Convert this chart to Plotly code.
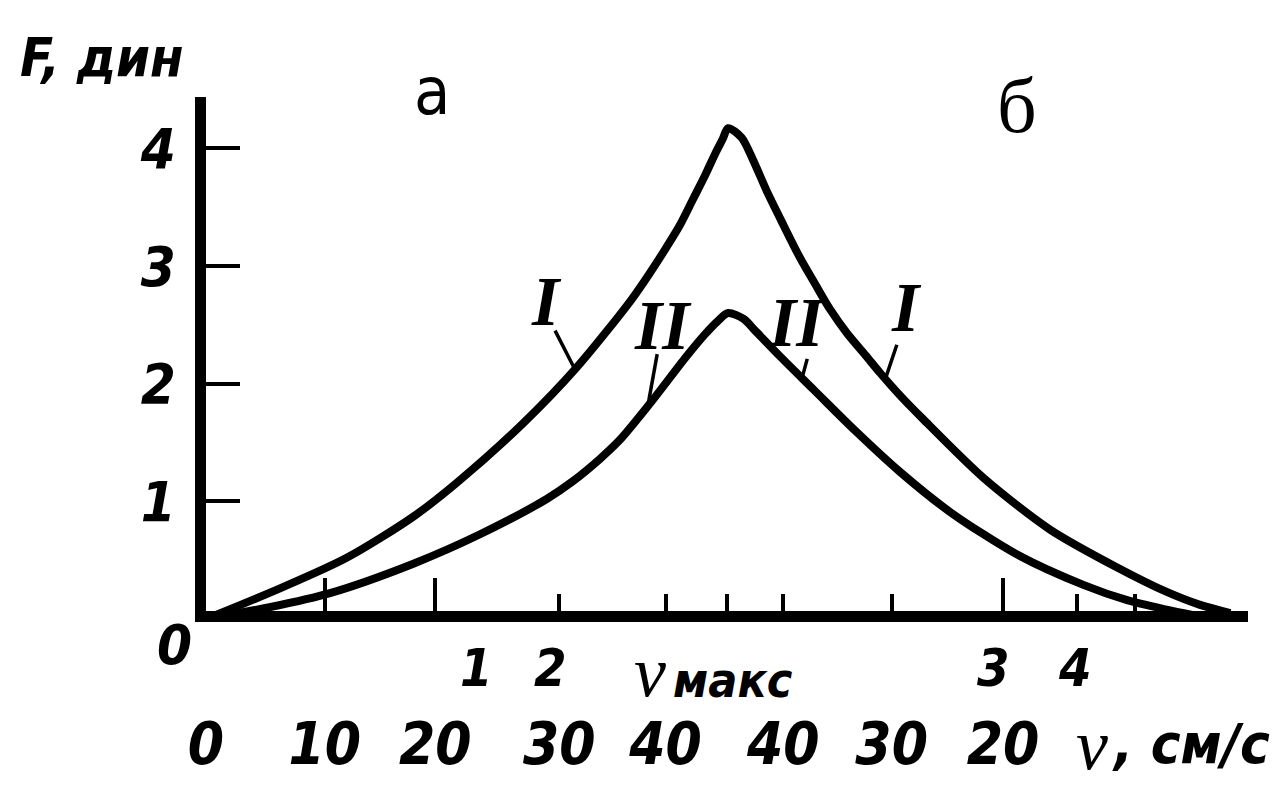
import numpy as np
import plotly.graph_objects as go

# Position along the run (arbitrary units, v_max at 5) and force F, dyn
pos_I = [0.00, 0.71, 1.35, 1.99, 2.41, 3.04, 3.56, 4.08, 4.26, 4.42, 4.55, 4.67,
         4.79, 4.89, 4.96, 5.01, 5.14, 5.25, 5.39, 5.54, 5.70, 5.85, 5.99, 6.15,
         6.33, 6.47, 6.66, 6.88, 7.46, 8.10, 8.74, 9.22, 9.54, 9.83]
force_I = [0.00, 0.26, 0.52, 0.87, 1.16, 1.66, 2.14, 2.71, 2.94, 3.16, 3.35, 3.56,
           3.77, 3.96, 4.08, 4.17, 4.09, 3.90, 3.62, 3.35, 3.07, 2.84, 2.63, 2.43,
           2.24, 2.09, 1.90, 1.70, 1.20, 0.76, 0.44, 0.23, 0.12, 0.05]
pos_II = [0.00, 0.61, 1.19, 1.99, 2.63, 3.27, 3.52, 3.78, 3.97, 4.26, 4.61, 4.79,
          4.91, 5.01, 5.16, 5.27, 5.51, 5.83, 6.23, 6.66, 7.14, 7.78, 8.42, 8.84,
          9.22, 9.49]
force_II = [0.00, 0.10, 0.22, 0.47, 0.72, 1.02, 1.17, 1.36, 1.52, 1.83, 2.23, 2.42,
            2.53, 2.60, 2.55, 2.45, 2.23, 1.95, 1.60, 1.25, 0.91, 0.55, 0.29, 0.16,
            0.08, 0.03]

# Speed scale under the axis, cm/s
speed_ticks = [0.00, 1.14, 2.20, 3.39, 4.41, 5.54, 6.58, 7.65]
speed_labels = ["0", "10", "20", "30", "40", "40", "30", "20"]
# Marked points 1-4 on the axis
point_ticks = [2.20, 3.39, 7.65, 8.36]
point_labels = ["1", "2", "3", "4"]
point_shift = [41, -9, -10, -2]
# Tall and short tick marks on the axis
long_ticks = [1.14, 2.20, 7.65, 10.0]
short_ticks = [3.39, 4.41, 5.00, 5.54, 6.58, 8.36, 8.92]
force_ticks = [1, 2, 3, 4]
force_labels = ["1", "2", "3", "4"]

NARROW = "Liberation Sans Narrow, DejaVu Sans Condensed, Liberation Sans, sans-serif"
SERIF = "Liberation Serif, DejaVu Serif, serif"
INK = "#000000"

fig = go.Figure()
for xs, ys, name in [(pos_I, force_I, "I"), (pos_II, force_II, "II")]:
    fig.add_trace(go.Scatter(
        x=xs, y=ys, mode="lines", name=name, showlegend=False,
        line=dict(color=INK, width=8, shape="spline", smoothing=0.8),
        hoverinfo="skip", cliponaxis=False,
    ))
# invisible trace that carries the speed scale axis
fig.add_trace(go.Scatter(x=[0, 10], y=[1, 1], xaxis="x2", mode="lines",
                         line=dict(width=0), showlegend=False, hoverinfo="skip"))

fig.update_layout(
    width=1284, height=788,
    margin=dict(l=206, r=36, t=97, b=177, autoexpand=False),
    paper_bgcolor="white", plot_bgcolor="white",
    xaxis=dict(
        range=[0, 10], showgrid=False, zeroline=False, automargin=False,
        showline=True, linecolor=INK, linewidth=11,
        tickmode="array", tickvals=long_ticks, ticks="inside",
        ticklen=33, tickwidth=4, tickcolor=INK, showticklabels=False,
        minor=dict(tickmode="array", tickvals=short_ticks, ticks="inside",
                   ticklen=17, tickwidth=4, tickcolor=INK, showgrid=False),
    ),
    xaxis2=dict(
        range=[0, 10], overlaying="x", anchor="y", side="bottom",
        showgrid=False, zeroline=False, showline=False, automargin=False,
        tickmode="array", tickvals=speed_ticks, ticktext=speed_labels,
        ticks="", ticklabelstandoff=94,
        tickfont=dict(family=NARROW, size=58, color=INK, style="italic", weight=700),
    ),
    yaxis=dict(
        range=[0.068, 4.435], showgrid=False, zeroline=False, automargin=False,
        showline=True, linecolor=INK, linewidth=11,
        tickmode="array", tickvals=force_ticks, ticktext=force_labels,
        ticks="inside", ticklen=34, tickwidth=4, tickcolor=INK,
        ticklabelstandoff=8,
        tickfont=dict(family=NARROW, size=56, color=INK, style="italic", weight=700),
    ),
)

def label(text, x, y, size, family=NARROW, style="italic", weight=700, xshift=0,
          xanchor="center", xref="paper", yref="paper"):
    fig.add_annotation(text=text, x=x, y=y, xref=xref, yref=yref, showarrow=False,
                       xshift=xshift, xanchor=xanchor, yanchor="middle",
                       font=dict(family=family, size=size, color=INK, style=style,
                                 weight=weight))

label("F, дин", -0.100, 1.076, 54)
label("а", 0.217, 1.010, 66, style="normal", weight=400)
label("б", 0.778, 0.984, 78, family=SERIF, style="normal", weight=400)
label("0", -0.030, -0.066, 56)
for xv, txt, sh in zip(point_ticks, point_labels, point_shift):
    label(txt, xv, -0.111, 52, xshift=sh, xref="x")
label("v", 0.426, -0.119, 72, family=SERIF, weight=400)
label("макс", 0.506, -0.134, 48)
label("v", 0.850, -0.261, 72, family=SERIF, weight=400)
label(", см/с", 0.868, -0.258, 56, xanchor="left")

# Curve labels with leader lines to the curves
curve_tags = [
    ("I", 3.27, 2.70, 3.35, 2.45, 3.54, pos_I, force_I),
    ("II", 4.39, 2.49, 4.33, 2.25, 4.24, pos_II, force_II),
    ("II", 5.67, 2.52, 5.77, 2.21, 5.72, pos_II, force_II),
    ("I", 6.72, 2.65, 6.63, 2.33, 6.52, pos_I, force_I),
]
for txt, tx, ty, lx, ly, cx, xs, ys in curve_tags:
    label(txt, tx, ty, 70, family=SERIF, xref="x", yref="y")
    fig.add_shape(type="line", xref="x", yref="y", x0=lx, y0=ly,
                  x1=cx, y1=float(np.interp(cx, xs, ys)),
                  line=dict(color=INK, width=3.5))

fig.write_html("out.html")
